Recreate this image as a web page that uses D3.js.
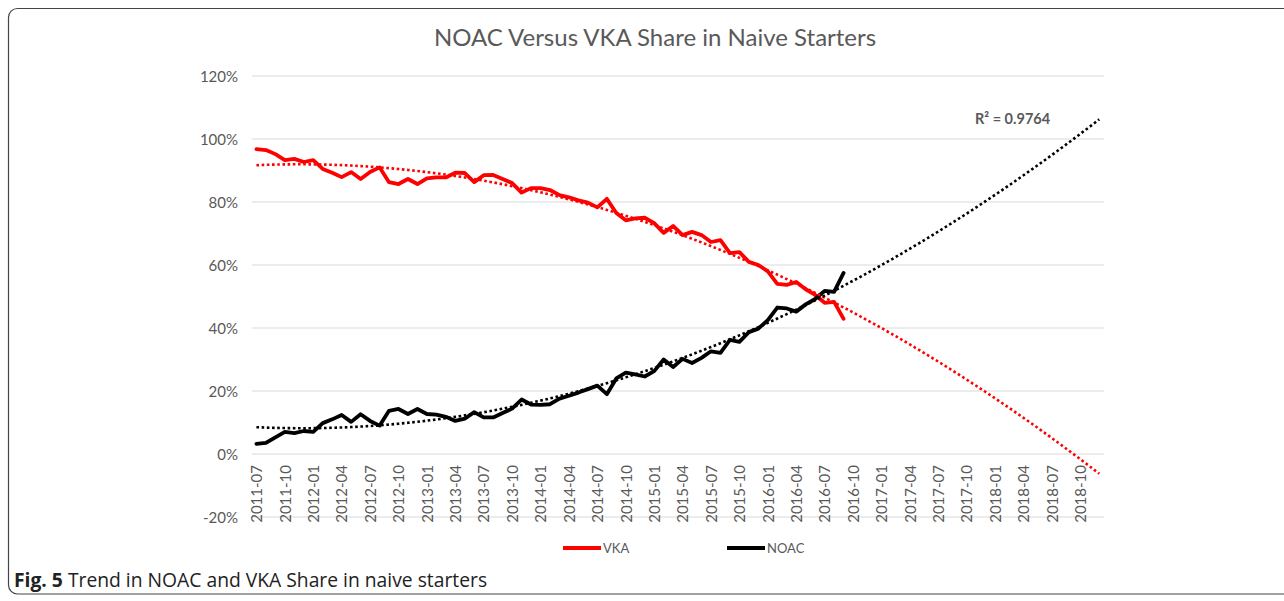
<!DOCTYPE html>
<html><head><meta charset="utf-8">
<script src="https://cdn.jsdelivr.net/npm/d3@7"></script>
<style>
html,body{margin:0;padding:0;background:#fff;}
text{font-family:Lato,"Open Sans",sans-serif;}
</style></head>
<body><svg id="c" width="1284" height="601"></svg>
<script>
// ---- data ----
const startMonth = "2011-07";
const totalCategories = 90;      // axis runs 2011-07 .. 2018-12 (trend forecast)
const tickLabels = ["2011-07","2011-10","2012-01","2012-04","2012-07","2012-10","2013-01","2013-04","2013-07","2013-10",
  "2014-01","2014-04","2014-07","2014-10","2015-01","2015-04","2015-07","2015-10","2016-01","2016-04","2016-07","2016-10",
  "2017-01","2017-04","2017-07","2017-10","2018-01","2018-04","2018-07","2018-10"];
const vka = [96.8,96.5,95.2,93.3,93.7,92.7,93.3,90.5,89.3,87.9,
  89.5,87.3,89.5,91.0,86.3,85.7,87.3,85.7,87.5,87.8,
  87.8,89.3,89.2,86.3,88.5,88.6,87.3,86.0,83.0,84.4,
  84.4,83.8,82.2,81.5,80.5,79.8,78.3,81.0,76.5,74.2,
  74.8,75.0,73.3,70.2,72.4,69.5,70.5,69.5,67.3,67.9,
  63.8,64.1,61.0,60.0,58.0,54.0,53.7,54.6,52.3,50.5,
  48.0,48.3,42.9];
const noac = [3.2,3.5,5.3,7.0,6.6,7.3,7.0,9.8,11.0,12.4,
  10.2,12.6,10.5,9.0,13.7,14.3,12.7,14.3,12.7,12.5,
  11.8,10.5,11.2,13.3,11.6,11.6,13.0,14.4,17.3,15.7,
  15.6,15.8,17.6,18.5,19.5,20.6,21.7,19.0,24.0,25.8,
  25.3,24.6,26.3,30.0,27.6,30.2,28.9,30.5,32.6,32.1,
  36.2,35.6,38.7,39.8,42.5,46.5,46.2,45.2,47.5,49.2,
  51.8,51.5,57.5];
const yTicks = [-20,0,20,40,60,80,100,120];
const seriesNames = ["VKA","NOAC"];
const seriesColors = ["#ff0000","#000000"];
const titleText = "NOAC Versus VKA Share in Naive Starters";
const r2Text = "R² = 0.9764";

// ---- categories ----
const fmt = d3.timeFormat("%Y-%m");
const t0 = d3.timeParse("%Y-%m")(startMonth);
const categories = d3.range(totalCategories).map(i => fmt(d3.timeMonth.offset(t0, i)));

// ---- quadratic least-squares trend (like Excel polynomial order 2) ----
function polyFit2(vals){
  let S = [0,0,0,0,0], T = [0,0,0];
  vals.forEach((v,i)=>{ const x=i+1; let p=1;
    for(let k=0;k<5;k++){ S[k]+=p; if(k<3) T[k]+=v*p; p*=x; } });
  const A = [[S[0],S[1],S[2],T[0]],[S[1],S[2],S[3],T[1]],[S[2],S[3],S[4],T[2]]];
  for(let c=0;c<3;c++){ for(let r=c+1;r<3;r++){ const f=A[r][c]/A[c][c];
    for(let k=c;k<4;k++) A[r][k]-=f*A[c][k]; } }
  const s=[0,0,0];
  for(let r=2;r>=0;r--){ let v=A[r][3]; for(let k=r+1;k<3;k++) v-=A[r][k]*s[k]; s[r]=v/A[r][r]; }
  return x => s[0]+s[1]*x+s[2]*x*x;
}

const svg = d3.select("#c");
// outer figure border
svg.append("rect").attr("x",8.5).attr("y",8.5).attr("width",1300).attr("height",585.5)
  .attr("rx",9).attr("fill","none").attr("stroke","#444").attr("stroke-width",1.2);

const x = d3.scalePoint().domain(categories).range([251.7,1104]).padding(0.5);
const y = d3.scaleLinear().domain([-20,120]).range([517,76]);

// gridlines
svg.append("g").selectAll("line").data(yTicks).join("line")
  .attr("x1",251.7).attr("x2",1104).attr("y1",d=>y(d)).attr("y2",d=>y(d))
  .attr("stroke","#d9d9d9").attr("stroke-width",1);

// y axis labels
const yAxis = d3.axisLeft(y).tickValues(yTicks).tickSize(0).tickPadding(0).tickFormat(d=>d+"%");
const gy = svg.append("g").attr("transform","translate(238,0)").call(yAxis);
gy.select(".domain").remove();
gy.selectAll("text").attr("font-family","Lato, sans-serif").attr("font-size",15).attr("fill","#595959").attr("dy","0.35em");

// x axis labels
const xAxis = d3.axisBottom(x).tickValues(tickLabels).tickSize(0).tickPadding(0);
const gx = svg.append("g").attr("transform",`translate(0,${y(0)})`).call(xAxis);
gx.select(".domain").remove();
gx.selectAll("text").attr("font-family","Lato, sans-serif").attr("font-size",15).attr("fill","#595959")
  .attr("text-anchor","end").attr("transform","translate(0,11) rotate(-90)").attr("x",0).attr("y",0).attr("dy","0.35em");

// lines
const line = d3.line().x((d,i)=>x(categories[i])).y(d=>y(d)).curve(d3.curveLinear);
const seriesData = [vka, noac];
seriesData.forEach((s,k)=>{
  svg.append("path").datum(s).attr("d",line).attr("fill","none")
    .attr("stroke",seriesColors[k]).attr("stroke-width",3.8).attr("stroke-linejoin","round").attr("stroke-linecap","round");
});
// trend lines
seriesData.forEach((s,k)=>{
  const f = polyFit2(s);
  const tv = categories.map((c,i)=>f(i+1));
  svg.append("path").datum(tv).attr("d",line).attr("fill","none")
    .attr("stroke",seriesColors[k]).attr("stroke-width",2.6).attr("stroke-dasharray","2.6 2.6");
});

// R² label
svg.append("text").attr("x",975).attr("y",124).attr("font-size",14.5).attr("fill","#595959")
  .attr("font-weight","bold").text(r2Text);

// title
svg.append("text").attr("x",655).attr("y",46).attr("text-anchor","middle").attr("font-size",24)
  .attr("fill","#595959").text(titleText);

// legend
const legX = [563,727];
seriesNames.forEach((n,k)=>{
  svg.append("line").attr("x1",legX[k]).attr("x2",legX[k]+38).attr("y1",548).attr("y2",548)
    .attr("stroke",seriesColors[k]).attr("stroke-width",3.8);
  svg.append("text").attr("x",legX[k]+40).attr("y",553).attr("font-size",13).attr("fill","#595959").text(n);
});

// caption
const cap = svg.append("text").attr("x",14).attr("y",587).attr("font-size",19.3).attr("fill","#222")
  .style("font-family","'Open Sans', sans-serif");
cap.append("tspan").attr("font-weight","bold").text("Fig. 5");
cap.append("tspan").text(" Trend in NOAC and VKA Share in naive starters");
</script></body></html>
